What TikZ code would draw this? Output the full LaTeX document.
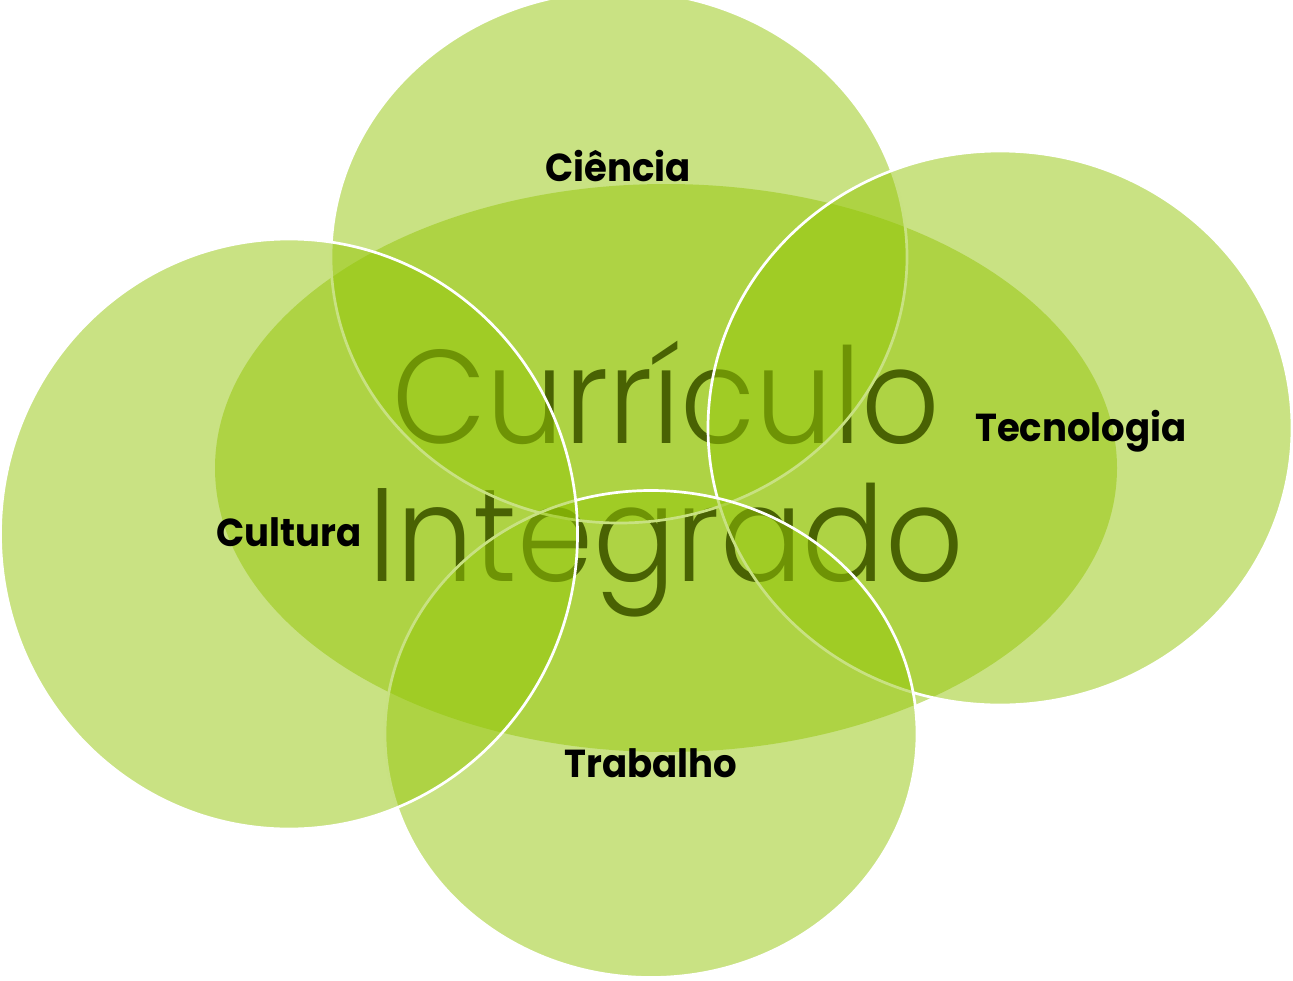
\documentclass[tikz,border=0pt]{standalone}
\usepackage{fontspec}
\setmainfont{Poppins}
\newfontfamily\thinfont{Poppins Light}
\usetikzlibrary{shapes.geometric}
\definecolor{leaf}{RGB}{147,197,7}
\begin{document}
\begin{tikzpicture}[x=1pt, y=-1pt,
  blob/.style={ellipse, inner sep=0pt, fill=leaf, fill opacity=.5},
  ring/.style={blob, draw=white, line width=2.7pt},
  big/.style={font=\thinfont\fontsize{133}{133}\selectfont, anchor=base, inner sep=0pt, xscale=.92, transform shape},
  tag/.style={font=\bfseries\fontsize{39}{39}\selectfont, anchor=base, inner sep=0pt, xscale=.95, transform shape}]
\useasboundingbox (0,0) rectangle (1293,980);
\node[blob, minimum width=902pt, minimum height=568pt] (core) at (666,468) {};
\node[big] (cur) at (666,443) {Currículo};
\node[big] (int) at (666,581) {Integrado};
\node[ring, minimum width=576pt, minimum height=532pt] (cien) at (619,257) {};
\node[ring, minimum width=584pt, minimum height=554pt] (tec) at (1000,428) {};
\node[ring, minimum width=532pt, minimum height=487pt] (trab) at (651,734) {};
\node[ring, minimum width=577pt, minimum height=590pt] (cult) at (289,534) {};
\node[tag] (lcien) at (618,181) {Ciência};
\node[tag] (ltec) at (1081,441) {Tecnologia};
\node[tag] (lcult) at (289,546) {Cultura};
\node[tag] (ltrab) at (651,777) {Trabalho};
\end{tikzpicture}
\end{document}
